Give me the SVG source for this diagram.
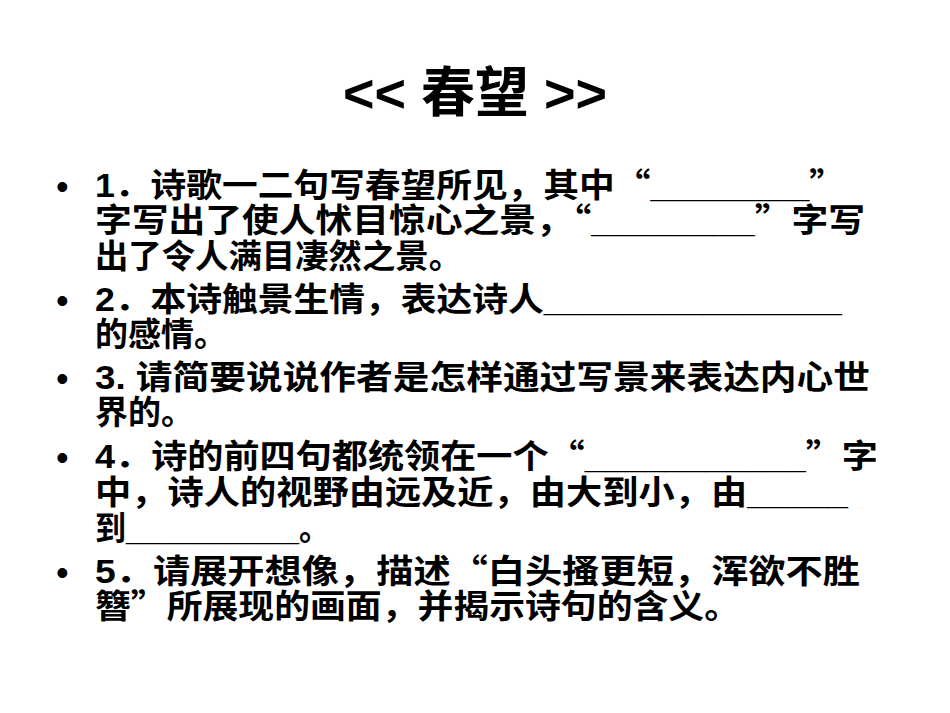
<svg xmlns="http://www.w3.org/2000/svg" width="950" height="713" viewBox="0 0 950 713">
<style>
.t{font-family:"Liberation Sans","Noto Sans CJK SC",sans-serif;font-size:33px;font-weight:bold;fill:#000}
.q{font-family:"Noto Sans CJK SC",sans-serif}
.b{font-family:"Liberation Sans",sans-serif;font-size:36px;fill:#000}
.h{font-family:"Liberation Sans","Noto Sans CJK SC",sans-serif;font-size:54px;font-weight:bold;fill:#000}
</style>
<rect width="950" height="713" fill="#fff"/>
<text class="h" x="475" y="112" text-anchor="middle">&lt;&lt; 春望 &gt;&gt;</text>
<g id="bullets" class="b">
<text x="56" y="199">•</text><text x="56" y="313">•</text><text x="56" y="391">•</text><text x="56" y="470">•</text><text x="56" y="585">•</text>
</g>
<g id="q1" class="t">
<text x="95" y="197" textLength="750" lengthAdjust="spacingAndGlyphs">1．诗歌一二句写春望所见，其中<tspan class="q">“</tspan>________<tspan class="q">”</tspan></text>
<text x="95" y="232" textLength="770" lengthAdjust="spacingAndGlyphs">字写出了使人怵目惊心之景，<tspan class="q">“</tspan>________<tspan class="q">”</tspan>字写</text>
<text x="95" y="268" textLength="367" lengthAdjust="spacingAndGlyphs">出了令人满目凄然之景。</text>
</g>
<g id="q2" class="t">
<text x="95" y="311" textLength="747" lengthAdjust="spacingAndGlyphs">2．本诗触景生情，表达诗人_______________</text>
<text x="95" y="346" textLength="132" lengthAdjust="spacingAndGlyphs">的感情。</text>
</g>
<g id="q3" class="t">
<text x="95" y="389" textLength="775" lengthAdjust="spacingAndGlyphs">3. 请简要说说作者是怎样通过写景来表达内心世</text>
<text x="95" y="424" textLength="99" lengthAdjust="spacingAndGlyphs">界的。</text>
</g>
<g id="q4" class="t">
<text x="95" y="468" textLength="783" lengthAdjust="spacingAndGlyphs">4．诗的前四句都统领在一个<tspan class="q">“</tspan>___________<tspan class="q">”</tspan>字</text>
<text x="95" y="504" textLength="753" lengthAdjust="spacingAndGlyphs">中，诗人的视野由远及近，由大到小，由_____</text>
<text x="95" y="540" textLength="235" lengthAdjust="spacingAndGlyphs">到__________。</text>
</g>
<g id="q5" class="t">
<text x="95" y="583" textLength="765" lengthAdjust="spacingAndGlyphs">5．请展开想像，描述<tspan class="q">“</tspan>白头搔更短，浑欲不胜</text>
<text x="95" y="618" textLength="645" lengthAdjust="spacingAndGlyphs">簪<tspan class="q">”</tspan>所展现的画面，并揭示诗句的含义。</text>
</g>
</svg>
